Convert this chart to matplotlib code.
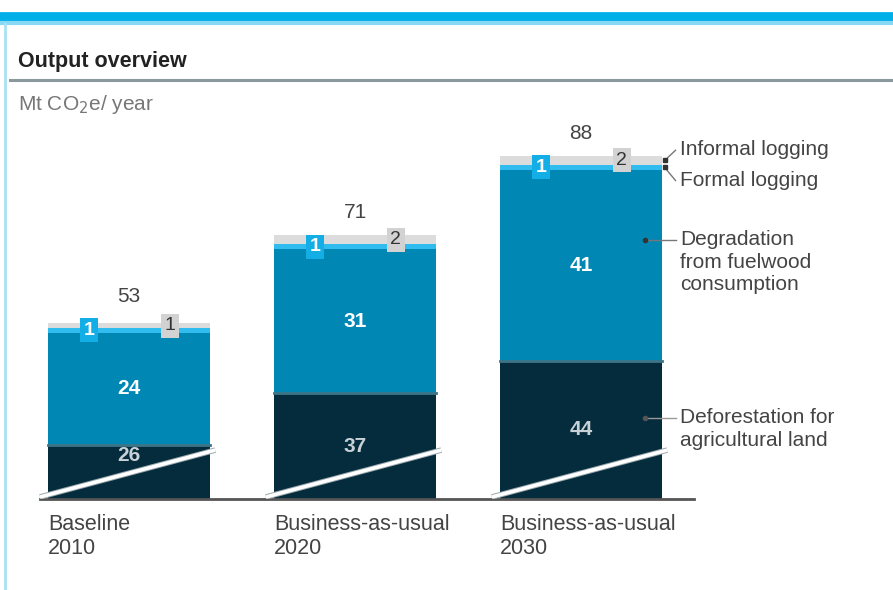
import matplotlib
matplotlib.use("Agg")
import matplotlib.pyplot as plt
import matplotlib.patheffects as pe
from matplotlib.lines import Line2D

plt.rcParams["font.family"] = ["Liberation Sans", "DejaVu Sans"]

# data (Mt CO2e / year)
cats = ["Baseline\n2010", "Business-as-usual\n2020", "Business-as-usual\n2030"]
deforestation = [26, 37, 44]
degradation = [24, 31, 41]
formal = [1, 1, 1]
informal = [1, 2, 2]
totals = [53, 71, 88]

C_DARK, C_MID, C_FORMAL, C_INF = "#042c3d", "#0087b4", "#30bcee", "#dcdcdc"
TXT = "#444444"
YMIN = 14.3     # axis break: bars start above this value
W = 0.717

fig = plt.figure(figsize=(8.93, 5.9), dpi=100)
ax = fig.add_axes([10 / 893, 91 / 590, 883 / 893, 369 / 590])
ax.set_xlim(-0.527, 3.381)
ax.set_ylim(YMIN, 93.55)
ax.axis("off")

x = range(len(cats))
b1 = [0] * 3
b2 = deforestation
b3 = [a + b for a, b in zip(deforestation, degradation)]
b4 = [a + b for a, b in zip(b3, formal)]
ax.bar(x, deforestation, W, bottom=b1, color=C_DARK, zorder=2)
ax.bar(x, degradation, W, bottom=b2, color=C_MID, zorder=2)
ax.bar(x, formal, W, bottom=b3, color=C_FORMAL, zorder=2)
ax.bar(x, informal, W, bottom=b4, color=C_INF, zorder=2)

for i in x:
    # separator dark / mid
    ax.plot([i - W / 2, i + W / 2], [b2[i], b2[i]], color="#3d7487", lw=2, zorder=3)
    # axis break line
    ax.plot([i - W / 2 - 0.036, i + W / 2 + 0.023], [14.73, 24.8], color="white", lw=2.6,
            zorder=4, solid_capstyle="butt",
            path_effects=[pe.Stroke(linewidth=4, foreground="#9aa7ad"), pe.Normal()])
    # segment labels
    ylab = max((YMIN + deforestation[i]) / 2, 23.7)
    ax.text(i, ylab, str(deforestation[i]), color="#c8d2d6", fontsize=15, fontweight="bold",
            ha="center", va="center", zorder=5)
    ax.text(i, b2[i] + degradation[i] / 2, str(degradation[i]), color="white", fontsize=15,
            fontweight="bold", ha="center", va="center", zorder=5)
    ax.text(i - 0.176, b3[i] + formal[i] / 2, str(formal[i]), color="white", fontsize=14,
            fontweight="bold", ha="center", va="center", zorder=6,
            bbox=dict(boxstyle="square,pad=0.18", fc="#14aee6", ec="none"))
    ax.text(i + 0.181, b4[i] + informal[i] / 2, str(informal[i]), color="#333333", fontsize=14,
            ha="center", va="center", zorder=6,
            bbox=dict(boxstyle="square,pad=0.18", fc="#d2d2d2", ec="none"))
    ax.annotate(str(totals[i]), (i, totals[i]), xytext=(0, 16), textcoords="offset points",
                ha="center", va="center", fontsize=15, color=TXT)
    ax.text(i - W / 2, 11.1, cats[i], ha="left", va="top", fontsize=15.5, color=TXT,
            linespacing=1.2)

# baseline
ax.plot([-0.394, 2.5], [YMIN, YMIN], color="#555555", lw=2, clip_on=False, zorder=3)

# right-hand legend labels
xr = 2 + W / 2
ax.plot([xr + 0.012], [87], marker="s", ms=3.5, color="#333333", zorder=6, clip_on=False)
ax.plot([xr + 0.012], [85.5], marker="s", ms=3.5, color="#333333", zorder=6, clip_on=False)
ax.plot([xr + 0.012, xr + 0.06], [87, 89.2], color="#777777", lw=1, zorder=5)
ax.plot([xr + 0.012, xr + 0.06], [85.5, 82.7], color="#777777", lw=1, zorder=5)
ax.text(2.438, 89.26, "Informal logging", fontsize=15, color=TXT, va="center", ha="left")
ax.text(2.438, 82.6, "Formal logging", fontsize=15, color=TXT, va="center", ha="left")

ax.plot([2.283], [69.93], marker="o", ms=3, color="#333333", zorder=6)
ax.plot([2.283, 2.42], [69.93, 69.93], color="#777777", lw=1, zorder=5)
ax.text(2.438, 72.1, "Degradation\nfrom fuelwood\nconsumption", fontsize=15, color=TXT,
        va="top", ha="left", linespacing=1.25)

ax.plot([2.283], [31.7], marker="o", ms=3, color="#555555", zorder=6)
ax.plot([2.283, 2.42], [31.7, 31.7], color="#999999", lw=1, zorder=5)
ax.text(2.438, 33.85, "Deforestation for\nagricultural land", fontsize=15, color=TXT,
        va="top", ha="left", linespacing=1.25)

# header
fig.add_artist(Line2D([0, 1], [1 - 16.5 / 590] * 2, color="#00aee8", lw=7))
fig.add_artist(Line2D([0, 1], [1 - 23 / 590] * 2, color="#86d8f4", lw=3))
fig.add_artist(Line2D([5 / 893] * 2, [0, 1 - 24 / 590], color="#a8e2f6", lw=2))
fig.add_artist(Line2D([10 / 893, 1], [1 - 80 / 590] * 2, color="#8a979b", lw=2.2))
fig.text(18 / 893, 1 - 61 / 590, "Output overview", fontsize=15.5, fontweight="bold",
         color="#222222", va="center", ha="left")
fig.text(18 / 893, 1 - 104 / 590, "Mt CO$_2$e/ year", fontsize=15, color="#777777",
         va="center", ha="left")

fig.savefig("out.png", dpi=100)
